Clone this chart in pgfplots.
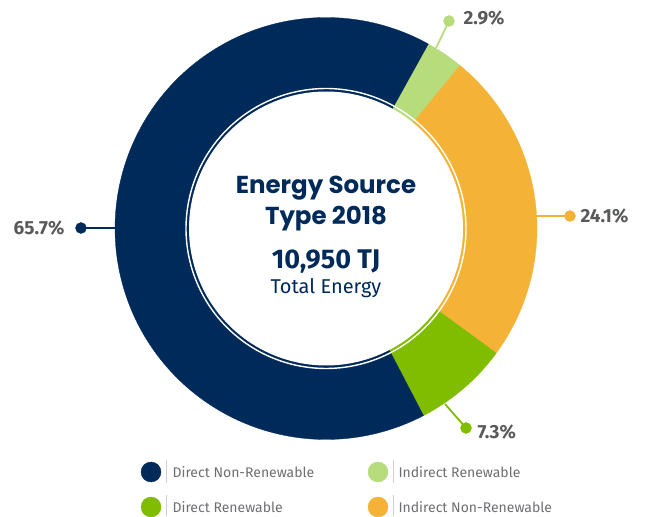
\documentclass[border=0pt]{standalone}
\usepackage{pgfplots}
\pgfplotsset{compat=1.18}
\usepackage{pgfplotstable}
\usepackage{fontspec}
\setmainfont{Fira Sans}
\newfontfamily\titlefont{Poppins}
\definecolor{navy}{HTML}{002A5A}
\definecolor{lgreen}{HTML}{B6DC7B}
\definecolor{orng}{HTML}{F4B336}
\definecolor{dgreen}{HTML}{80BC00}
\definecolor{labgray}{HTML}{58595B}
\definecolor{leggray}{HTML}{6D6E71}
\definecolor{sepgray}{HTML}{D0D0D0}

% shares in percent, in clockwise order starting at the top
\pgfplotstableread{
name share
IR 2.9
INR 24.1
DR 7.3
DNR 65.7
}\datatable

\begin{document}
\begin{tikzpicture}
\pgfplotstablegetelem{0}{share}\of\datatable \let\sIR\pgfplotsretval
\pgfplotstablegetelem{1}{share}\of\datatable \let\sINR\pgfplotsretval
\pgfplotstablegetelem{2}{share}\of\datatable \let\sDR\pgfplotsretval
\pgfplotstablegetelem{3}{share}\of\datatable \let\sDNR\pgfplotsretval
\pgfmathsetmacro\aA{61}
\pgfmathsetmacro\aB{\aA-3.6*\sIR}
\pgfmathsetmacro\aC{\aB-3.6*\sINR}
\pgfmathsetmacro\aD{\aC-3.6*\sDR}
\pgfmathsetmacro\aE{\aD-3.6*\sDNR}
\def\cx{326}\def\cy{287.5}\def\R{211}
\begin{axis}[x=1pt, y=1pt, xmin=0, xmax=647, ymin=0, ymax=516,
  hide axis, clip=false]
\coordinate (LL) at (axis cs:0,0);
\coordinate (UR) at (axis cs:647,516);
% wedges
\addplot[fill=lgreen, draw=lgreen, line width=0.3pt, domain=\aB:\aA, samples=30, variable=\t]
  ({\cx+\R*cos(\t)},{\cy+\R*sin(\t)}) -- (axis cs:\cx,\cy) -- cycle;
\addplot[fill=orng, draw=orng, line width=0.3pt, domain=\aC:\aB, samples=80, variable=\t]
  ({\cx+\R*cos(\t)},{\cy+\R*sin(\t)}) -- (axis cs:\cx,\cy) -- cycle;
\addplot[fill=dgreen, draw=dgreen, line width=0.3pt, domain=\aD:\aC, samples=40, variable=\t]
  ({\cx+\R*cos(\t)},{\cy+\R*sin(\t)}) -- (axis cs:\cx,\cy) -- cycle;
\addplot[fill=navy, draw=navy, line width=0.3pt, domain=\aE:\aD, samples=160, variable=\t]
  ({\cx+\R*cos(\t)},{\cy+\R*sin(\t)}) -- (axis cs:\cx,\cy) -- cycle;
% hole and inner white ring line
\addplot[fill=white, draw=none, domain=0:360, samples=180, variable=\t]
  ({\cx+137*cos(\t)},{\cy+137*sin(\t)}) -- cycle;
\addplot[draw=white, line width=1.4pt, domain=0:360, samples=180, variable=\t]
  ({\cx+140*cos(\t)},{\cy+140*sin(\t)});
% leader lines
\addplot[navy, line width=1.8pt] coordinates {(115,288) (81,288)};
\addplot[navy, only marks, mark=*, mark size=5.5pt] coordinates {(81,288)};
\addplot[orng, line width=1.8pt] coordinates {(536,300) (570,300)};
\addplot[orng, only marks, mark=*, mark size=5.5pt] coordinates {(570,300)};
\addplot[lgreen, line width=1.8pt] coordinates {(436,468) (449,495)};
\addplot[lgreen, only marks, mark=*, mark size=5.5pt] coordinates {(449,495)};
\addplot[dgreen, line width=1.8pt] coordinates {(445,112) (466,88)};
\addplot[dgreen, only marks, mark=*, mark size=5.5pt] coordinates {(466,88)};
% percentage labels
\node[labgray, anchor=east, font=\bfseries\fontsize{19}{21}\selectfont] at (axis cs:68,288) {65.7\%};
\node[labgray, anchor=west, font=\bfseries\fontsize{19}{21}\selectfont] at (axis cs:577,300) {24.1\%};
\node[labgray, anchor=west, font=\bfseries\fontsize{19}{21}\selectfont] at (axis cs:460,498) {2.9\%};
\node[labgray, anchor=west, font=\bfseries\fontsize{19}{21}\selectfont] at (axis cs:474,84) {7.3\%};
% centre text
\node[navy, font=\titlefont\bfseries\fontsize{24.5}{28}\selectfont] at (axis cs:326,328) {Energy Source};
\node[navy, font=\titlefont\bfseries\fontsize{24.5}{28}\selectfont] at (axis cs:326,297) {Type 2018};
\node[navy, font=\bfseries\fontsize{27}{30}\selectfont] at (axis cs:326,254) {10,950 TJ};
\node[navy, font=\fontsize{20}{22}\selectfont] at (axis cs:326,228) {Total Energy};
% legend
\addplot[navy, only marks, mark=*, mark size=10pt] coordinates {(151,44)};
\addplot[dgreen, only marks, mark=*, mark size=10pt] coordinates {(151,9)};
\addplot[lgreen, only marks, mark=*, mark size=10pt] coordinates {(378,44)};
\addplot[orng, only marks, mark=*, mark size=10pt] coordinates {(378,9)};
\addplot[sepgray, line width=0.8pt] coordinates {(166,56) (166,33)};
\addplot[sepgray, line width=0.8pt] coordinates {(166,21) (166,0)};
\addplot[sepgray, line width=0.8pt] coordinates {(393,56) (393,33)};
\addplot[sepgray, line width=0.8pt] coordinates {(393,21) (393,0)};
\node[leggray, anchor=west, font=\fontsize{14}{16}\selectfont] at (axis cs:169,44) {Direct Non-Renewable};
\node[leggray, anchor=west, font=\fontsize{14}{16}\selectfont] at (axis cs:169,9) {Direct Renewable};
\node[leggray, anchor=west, font=\fontsize{14}{16}\selectfont] at (axis cs:395,44) {Indirect Renewable};
\node[leggray, anchor=west, font=\fontsize{14}{16}\selectfont] at (axis cs:395,9) {Indirect Non-Renewable};
\end{axis}
\pgfresetboundingbox
\path (LL) rectangle (UR);
\end{tikzpicture}
\end{document}
